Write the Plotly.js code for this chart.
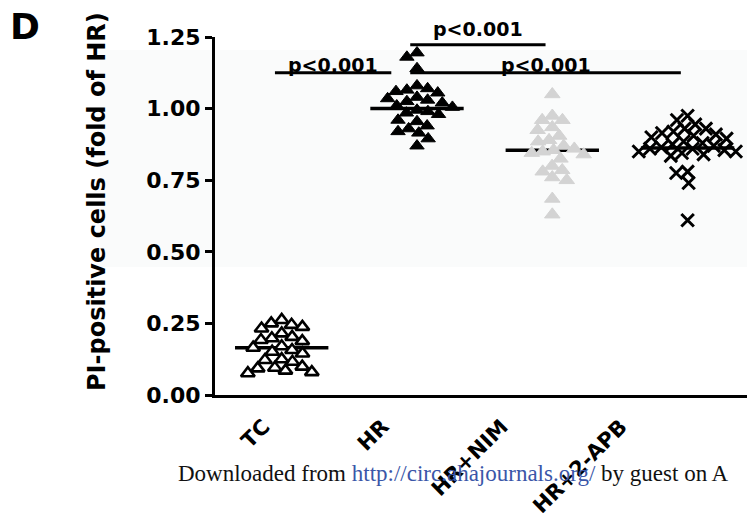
<!DOCTYPE html>
<html><head><meta charset="utf-8">
<script src="https://cdn.plot.ly/plotly-3.0.1.min.js"></script>
<style>html,body{margin:0;padding:0;background:#fff;} #chart{width:747px;height:513px;}</style>
</head><body><div id="chart"></div>
<script>
// ---- data ----
const categories = ['TC', 'HR', 'HR+NIM', 'HR+2-APB'];
const tcValues = [0.262, 0.250, 0.245, 0.238, 0.232, 0.215, 0.203, 0.198, 0.192, 0.188, 0.170, 0.157,
                  0.151, 0.165, 0.145, 0.122, 0.116, 0.125, 0.099, 0.093, 0.095, 0.076, 0.085, 0.080];
const hrValues = [1.195, 1.18, 1.14, 1.08, 1.07, 1.065, 1.06, 1.055, 1.04, 1.035, 1.03, 1.025, 1.02, 1.01,
                  1.005, 0.995, 0.99, 0.985, 0.98, 0.96, 0.955, 0.94, 0.93, 0.92, 0.915, 0.895, 0.87];
const nimValues = [1.05, 0.975, 0.96, 0.96, 0.935, 0.925, 0.905, 0.89, 0.885, 0.87, 0.86, 0.855, 0.85,
                   0.845, 0.84, 0.825, 0.80, 0.785, 0.78, 0.76, 0.75, 0.685, 0.63];
const apbValues = [0.975, 0.96, 0.945, 0.93, 0.93, 0.92, 0.915, 0.91, 0.905, 0.90, 0.895, 0.885, 0.88, 0.875,
                   0.87, 0.865, 0.86, 0.86, 0.855, 0.85, 0.85, 0.845, 0.84, 0.835, 0.78, 0.775, 0.74, 0.61];
const groupMeans = [0.165, 1.00, 0.855, 0.862];
const yTickVals = [0, 0.25, 0.5, 0.75, 1.0, 1.25];
const yTickText = ['0.00', '0.25', '0.50', '0.75', '1.00', '1.25'];
const compFrom = ['TC', 'HR', 'HR'];
const compTo = ['HR', 'HR+NIM', 'HR+2-APB'];
const compY = [1.125, 1.223, 1.125];
const compText = ['p<0.001', 'p<0.001', 'p<0.001'];
const yTitle = 'PI-positive cells (fold of HR)';
const panelLabel = 'D';

// ---- layout constants ----
const W = 747, H = 513, M = {l: 215, r: 0, t: 37, b: 118, pad: 0};
const xRange = [-0.493, 3.439], yRange = [0, 1.25];
const plotW = W - M.l - M.r, plotH = H - M.t - M.b;
const pxPerX = plotW / (xRange[1] - xRange[0]);
const pxPerY = plotH / (yRange[1] - yRange[0]);
// category labels in the scanned figure sit on a slightly tighter pitch than the point columns
const labelStart = -0.133, labelPitch = 0.88;
const boldFont = 'DejaVu Sans, Arial, sans-serif';

// deterministic beeswarm (GraphPad-style spreading of points with similar values)
function swarm(values, diam) {
  const placed = [];
  const order = values.map((v, i) => i).sort((a, b) => values[b] - values[a]);
  const offs = new Array(values.length);
  order.forEach((idx, k) => {
    const py = values[idx] * pxPerY;
    const cands = [0], blocks = [];
    placed.forEach(p => {
      const dy = Math.abs(p.py - py);
      if (dy < diam) {
        const w = Math.sqrt(diam * diam - dy * dy);
        blocks.push([p.px - w, p.px + w]);
        cands.push(p.px - w, p.px + w);
      }
    });
    const ok = x => blocks.every(b => x <= b[0] + 1e-6 || x >= b[1] - 1e-6);
    let best = null;
    cands.filter(ok).forEach(x => {
      if (best === null || Math.abs(x) < Math.abs(best) - 1e-6 ||
          (Math.abs(Math.abs(x) - Math.abs(best)) < 1e-6 && (k % 2 ? x < best : x > best))) best = x;
    });
    placed.push({py: py, px: best});
    offs[idx] = best / pxPerX;
  });
  return offs;
}

const groups = [tcValues, hrValues, nimValues, apbValues];
const markerStyles = [
  {symbol: 'triangle-up', size: 12, color: '#ffffff', line: {color: '#000000', width: 2.6}},
  {symbol: 'triangle-up', size: 12.5, color: '#000000', line: {color: '#000000', width: 1}},
  {symbol: 'triangle-up', size: 13.5, color: '#d3d3d3', line: {color: '#d3d3d3', width: 1}},
  {symbol: 'x-thin', size: 12.5, color: '#000000', line: {color: '#000000', width: 3}}
];
const swarmDiam = [11, 11, 11, 11.5];

const traces = groups.map((vals, i) => {
  const offs = swarm(vals, swarmDiam[i]);
  return {
    type: 'scatter', mode: 'markers', name: categories[i],
    x: vals.map((v, j) => i + offs[j]), y: vals,
    marker: markerStyles[i], cliponaxis: false, hoverinfo: 'skip'
  };
});

const shapes = [];
// faint background tint present in the scanned figure
shapes.push({type: 'rect', xref: 'paper', yref: 'paper', layer: 'below',
  x0: (100 - M.l) / plotW, x1: 1, y0: (H - M.b - 267) / plotH, y1: (H - M.b - 50) / plotH,
  fillcolor: '#fafbfb', line: {width: 0}});
// mean lines
groupMeans.forEach((m, i) => {
  shapes.push({type: 'line', xref: 'x', yref: 'y', layer: 'below',
    x0: i - 0.345, x1: i + 0.345, y0: m, y1: m, line: {color: '#000', width: 3.5}});
});
// significance brackets
const annotations = [];
const labelShift = [-5, 3, -5];
compFrom.forEach((f, k) => {
  const i1 = categories.indexOf(f), i2 = categories.indexOf(compTo[k]);
  let x0 = i1 - 0.05, x1 = i2 - 0.05;
  const touching = compFrom.some((g, j) => j !== k && compY[j] === compY[k] && categories.indexOf(g) === i2);
  if (touching) x1 -= 0.14;
  shapes.push({type: 'line', xref: 'x', yref: 'y', layer: 'above',
    x0: x0, x1: x1, y0: compY[k], y1: compY[k], line: {color: '#000', width: 3}});
  annotations.push({xref: 'x', yref: 'y', x: (x0 + x1) / 2, y: compY[k], yanchor: 'bottom', xanchor: 'center',
    yshift: labelShift[k], showarrow: false, text: compText[k],
    font: {family: boldFont, size: 19, color: '#000', weight: 'bold'}});
});
annotations.push({xref: 'paper', yref: 'paper', x: (97 - M.l) / plotW, y: (H - M.b - 202) / plotH,
  xanchor: 'center', yanchor: 'middle', textangle: -90, showarrow: false, text: yTitle,
  font: {family: boldFont, size: 24, color: '#000', weight: 'bold'}});
annotations.push({xref: 'paper', yref: 'paper', x: (25 - M.l) / plotW, y: (H - M.b - 27) / plotH,
  xanchor: 'center', yanchor: 'middle', showarrow: false, text: panelLabel,
  font: {family: boldFont, size: 36, color: '#000', weight: 'bold'}});
annotations.push({xref: 'paper', yref: 'paper', x: (176 - M.l) / plotW, y: (H - M.b - 473) / plotH,
  xanchor: 'left', yanchor: 'middle', showarrow: false,
  text: 'Downloaded from <span style="color:#3a56a8">http://circ.ahajournals.org/</span> by guest on A',
  font: {family: 'Liberation Serif, Times New Roman, serif', size: 23, color: '#111'}});

const layout = {
  width: W, height: H, margin: M, showlegend: false,
  paper_bgcolor: '#ffffff', plot_bgcolor: 'rgba(0,0,0,0)',
  xaxis: {range: xRange, tickmode: 'array',
    tickvals: categories.map((c, i) => labelStart + labelPitch * i), ticktext: categories,
    tickangle: -45, ticks: '', ticklabelstandoff: 8, showgrid: false, zeroline: false,
    showline: true, linecolor: '#000', linewidth: 3,
    tickfont: {family: boldFont, size: 21, color: '#000', weight: 'bold'}},
  yaxis: {range: yRange, tickmode: 'array', tickvals: yTickVals, ticktext: yTickText,
    ticks: 'outside', ticklen: 7, tickwidth: 3, tickcolor: '#000', showgrid: false, zeroline: false,
    showline: true, linecolor: '#000', linewidth: 3,
    tickfont: {family: boldFont, size: 22, color: '#000', weight: 'bold'}},
  shapes: shapes, annotations: annotations
};
Plotly.newPlot('chart', traces, layout, {staticPlot: true, displayModeBar: false});
</script></body></html>
